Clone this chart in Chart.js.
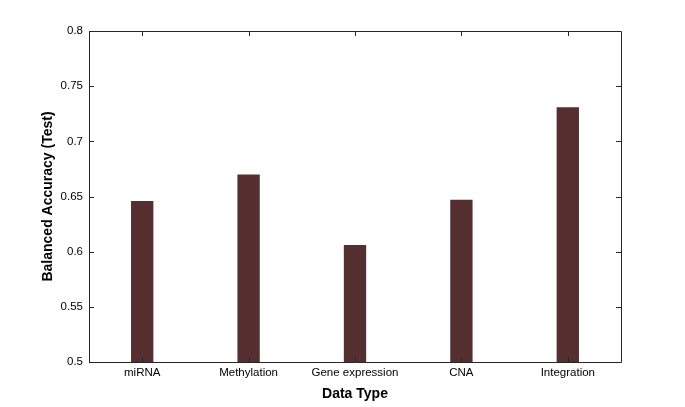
<!DOCTYPE html>
<html>
<head>
<meta charset="utf-8">
<script src="https://cdn.jsdelivr.net/npm/chart.js@4"></script>
<style>
  html, body { margin: 0; padding: 0; background: #fff; }
  #wrap { width: 685px; height: 407px; }
</style>
</head>
<body>
<div id="wrap"><canvas id="accuracy-chart" width="685" height="407"></canvas></div>
<script>
const dataTypes = ['miRNA', 'Methylation', 'Gene expression', 'CNA', 'Integration'];
const balancedAccuracy = [0.646, 0.670, 0.606, 0.647, 0.731];
const yTicks = [0.5, 0.55, 0.6, 0.65, 0.7, 0.75, 0.8];

const boxColor = '#262626';

// MATLAB-style box with inward ticks
const boxTicks = {
    id: 'boxTicks',
    afterDraw(chart) {
        const {ctx, chartArea: a, scales: {x, y}} = chart;
        ctx.save();
        ctx.strokeStyle = boxColor;
        ctx.lineWidth = 1;
        ctx.beginPath();
        ctx.rect(a.left + 0.5, a.top + 0.5, a.right - a.left, a.bottom - a.top);
        yTicks.forEach(v => {
            const py = Math.round(y.getPixelForValue(v)) + 0.5;
            ctx.moveTo(a.left, py); ctx.lineTo(a.left + 5, py);
            ctx.moveTo(a.right, py); ctx.lineTo(a.right - 5, py);
        });
        dataTypes.forEach((_, i) => {
            const px = Math.round(x.getPixelForValue(i)) + 0.5;
            ctx.moveTo(px, a.top); ctx.lineTo(px, a.top + 5);
            ctx.moveTo(px, a.bottom); ctx.lineTo(px, a.bottom - 5);
        });
        ctx.stroke();
        ctx.restore();
    }
};

const data = {
    labels: dataTypes,
    datasets: [{
        label: 'Balanced Accuracy',
        backgroundColor: '#552f30',
        borderWidth: 0,
        data: balancedAccuracy,
        barPercentage: 0.21,
        categoryPercentage: 1
    }]
};

const options = {
    responsive: false,
    animation: false,
    layout: { padding: { top: 31, right: 64, bottom: 0, left: 0 } },
    plugins: { legend: { display: false }, tooltip: { enabled: false } },
    scales: {
        x: {
            grid: { display: false, drawTicks: false },
            border: { display: false },
            ticks: { color: '#000', padding: 4, maxRotation: 0, font: { family: 'Liberation Sans', size: 11.5 } },
            title: { display: true, text: 'Data Type', color: '#000', padding: { top: 0, bottom: 4 },
                font: { family: 'Liberation Sans', size: 14, weight: 'bold' } },
            afterFit(scale) { scale.height = 45; }
        },
        y: {
            min: 0.5,
            max: 0.8,
            afterBuildTicks(scale) { scale.ticks = yTicks.map(v => ({ value: v })); },
            grid: { display: false, drawTicks: false },
            border: { display: false },
            ticks: { color: '#000', padding: 6, font: { family: 'Liberation Sans', size: 11.5 },
                callback: v => String(+v.toFixed(2)) },
            title: { display: true, text: 'Balanced Accuracy (Test)', color: '#000', padding: { top: 40, bottom: 0 },
                font: { family: 'Liberation Sans', size: 14, weight: 'bold' } },
            afterFit(scale) { scale.width = 89; }
        }
    }
};

new Chart(document.querySelector('#accuracy-chart'), {
    type: 'bar',
    data,
    options,
    plugins: [boxTicks]
});
</script>
</body>
</html>
